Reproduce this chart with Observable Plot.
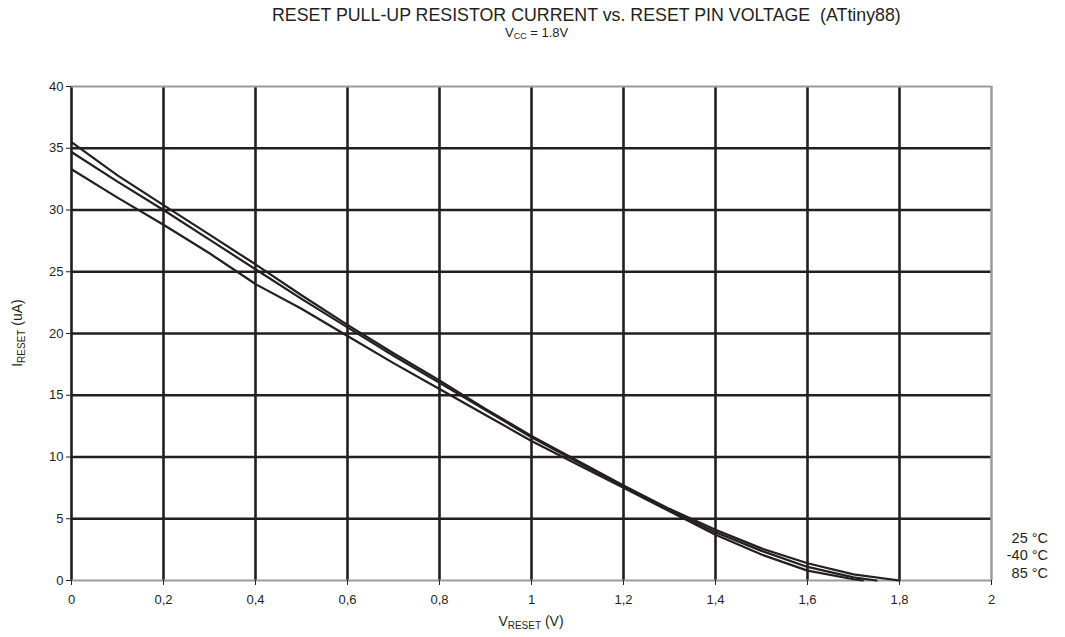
<!DOCTYPE html>
<html>
<head>
<meta charset="utf-8">
<script src="https://cdn.jsdelivr.net/npm/d3@7"></script>
<script src="https://cdn.jsdelivr.net/npm/@observablehq/plot@0.6"></script>
<style>
  body { margin: 0; background: #fff; font-family: "Liberation Sans", Arial, sans-serif; }
  #wrap { position: relative; width: 1065px; height: 637px; }
  #head { position: relative; height: 50px; width: 1065px; color: #231f20; }
  #title { position: absolute; left: 272px; top: 6px; font-size: 17.8px; line-height: 19px; white-space: pre; }
  #sub { position: absolute; left: 505px; top: 25px; font-size: 13px; line-height: 15px; white-space: pre; }
  #sub sub { font-size: 9px; vertical-align: -2px; line-height: 0; }
  svg text { font-family: "Liberation Sans", Arial, sans-serif; }
</style>
</head>
<body>
<div id="wrap">
  <div id="head">
    <div id="title">RESET PULL-UP RESISTOR CURRENT vs. RESET PIN VOLTAGE  (ATtiny88)</div>
    <div id="sub">V<sub>CC</sub> = 1.8V</div>
  </div>
  <div id="chart"></div>
</div>
<script>
// Data
const v25  = [0, 0.1, 0.2, 0.3, 0.4, 0.5, 0.6, 0.7, 0.8, 0.9, 1.0, 1.1, 1.2, 1.3, 1.4, 1.5, 1.6, 1.7, 1.8];
const i25  = [35.5, 32.8, 30.4, 28.0, 25.6, 23.1, 20.7, 18.4, 16.2, 13.9, 11.7, 9.7, 7.7, 5.8, 4.1, 2.6, 1.4, 0.5, 0.0];
const vM40 = [0, 0.1, 0.2, 0.3, 0.4, 0.5, 0.6, 0.7, 0.8, 0.9, 1.0, 1.1, 1.2, 1.3, 1.4, 1.5, 1.6, 1.7, 1.75];
const iM40 = [34.7, 32.3, 30.0, 27.6, 25.2, 22.8, 20.5, 18.2, 16.0, 13.8, 11.6, 9.6, 7.6, 5.7, 3.9, 2.4, 1.1, 0.25, 0.0];
const v85  = [0, 0.1, 0.2, 0.3, 0.4, 0.5, 0.6, 0.7, 0.8, 0.9, 1.0, 1.1, 1.2, 1.3, 1.4, 1.5, 1.6, 1.7, 1.72];
const i85  = [33.3, 31.0, 28.8, 26.5, 24.0, 22.0, 19.8, 17.6, 15.5, 13.4, 11.3, 9.4, 7.5, 5.6, 3.7, 2.1, 0.8, 0.1, 0.0];

const seriesNames = ["25 °C", "-40 °C", "85 °C"];
const xTicks = [0, 0.2, 0.4, 0.6, 0.8, 1, 1.2, 1.4, 1.6, 1.8, 2];
const xTickLabels = ["0", "0,2", "0,4", "0,6", "0,8", "1", "1,2", "1,4", "1,6", "1,8", "2"];
const yTicks = [0, 5, 10, 15, 20, 25, 30, 35, 40];
const xGrid = [0, 0.2, 0.4, 0.6, 0.8, 1, 1.2, 1.4, 1.6, 1.8];
const yGrid = [5, 10, 15, 20, 25, 30, 35];

const rows = [];
[[v25, i25, seriesNames[0]], [vM40, iM40, seriesNames[1]], [v85, i85, seriesNames[2]]].forEach(([vs, is, name]) => {
  vs.forEach((x, k) => rows.push({v: x, i: is[k], s: name}));
});

const dark = "#231f20";
const grey = "#9a9a9a";

const svg = Plot.plot({
  width: 1065,
  height: 587,
  marginLeft: 71,
  marginRight: 74,
  marginTop: 36,
  marginBottom: 57,
  style: {fontSize: "13px", color: dark, background: "#fff"},
  x: {domain: [0, 2], label: null},
  y: {domain: [0, 40], label: null},
  marks: [
    Plot.ruleX(xGrid, {stroke: dark, strokeWidth: 2.6}),
    Plot.ruleY(yGrid, {stroke: dark, strokeWidth: 2.6}),
    Plot.ruleY([0, 40], {stroke: grey, strokeWidth: 2}),
    Plot.ruleX([2], {stroke: grey, strokeWidth: 2.5}),
    Plot.axisX({ticks: xTicks, tickSize: 5, tickPadding: 9, stroke: dark, tickFormat: (d) => xTickLabels[xTicks.indexOf(d)], fontSize: 13}),
    Plot.axisY({ticks: yTicks, tickSize: 5, tickPadding: 3, stroke: dark, fontSize: 13}),
    Plot.line(rows, {x: "v", y: "i", z: "s", stroke: dark, strokeWidth: 2.2, curve: "linear"})
  ]
});

const sel = d3.select(svg);
const sx = svg.scale("x"), sy = svg.scale("y");

// series labels stacked at the right end of the chart
const labelDy = [-37, -20, -2];
seriesNames.forEach((name, k) => {
  sel.append("text")
    .attr("x", sx.apply(2) + 57)
    .attr("y", sy.apply(0) + labelDy[k])
    .attr("text-anchor", "end")
    .attr("font-size", 14.5)
    .attr("fill", dark)
    .text(name);
});

// axis titles with subscripts
const xl = sel.append("text").attr("x", 531).attr("y", 576).attr("text-anchor", "middle")
  .attr("font-size", 14).attr("fill", dark);
xl.append("tspan").text("V");
xl.append("tspan").attr("font-size", 10).attr("dy", 3).text("RESET");
xl.append("tspan").attr("dy", -3).text(" (V)");

const yl = sel.append("text").attr("transform", "translate(22,283) rotate(-90)").attr("text-anchor", "middle")
  .attr("font-size", 14).attr("fill", dark);
yl.append("tspan").text("I");
yl.append("tspan").attr("font-size", 10).attr("dy", 3).text("RESET");
yl.append("tspan").attr("dy", -3).text(" (uA)");

document.getElementById("chart").appendChild(svg);
</script>
</body>
</html>
